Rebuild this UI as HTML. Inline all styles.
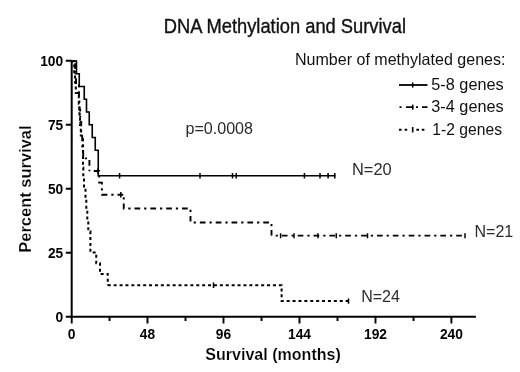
<!DOCTYPE html>
<html><head><meta charset="utf-8"><style>
html,body{margin:0;padding:0;background:#fff;}
svg{display:block;font-family:"Liberation Sans",sans-serif;}
</style></head><body>
<svg width="520" height="372" viewBox="0 0 520 372">
<rect width="520" height="372" fill="#fff"/>
<g fill="#111">
<text x="163.700" y="33" font-size="19.300" textLength="242.300" lengthAdjust="spacingAndGlyphs" stroke="#111" stroke-width="0.350">DNA Methylation and Survival</text>
<text x="294.900" y="65.100" font-size="16.500" textLength="210.600" lengthAdjust="spacingAndGlyphs">Number of methylated genes:</text>
<text x="431.300" y="90.300" font-size="17" textLength="72.400" lengthAdjust="spacingAndGlyphs">5-8 genes</text>
<text x="431.300" y="112.200" font-size="17" textLength="72.400" lengthAdjust="spacingAndGlyphs">3-4 genes</text>
<text x="432.300" y="134.600" font-size="17" textLength="69.800" lengthAdjust="spacingAndGlyphs">1-2 genes</text>
<text x="185.500" y="134.200" font-size="16" textLength="67.500" lengthAdjust="spacingAndGlyphs" fill="#2b2b2b">p=0.0008</text>
<text x="352" y="174.700" font-size="16" textLength="39.700" lengthAdjust="spacingAndGlyphs" fill="#2b2b2b">N=20</text>
<text x="474.500" y="236.500" font-size="16" fill="#2b2b2b">N=21</text>
<text x="361.200" y="301.500" font-size="16" fill="#2b2b2b">N=24</text>
</g>
<!-- legend samples -->
<g stroke="#000" fill="none">
<path d="M399 85 H427.500" stroke-width="1.800"/>
<path d="M412.700 82.400 V87.600" stroke-width="1.500"/>
<path d="M399.500 107.200 H427.500" stroke-width="1.800" stroke-dasharray="2 4.500 7.500 2.500 2 4 6 4"/>
<path d="M412.700 104.600 V109.800" stroke-width="1.500"/>
<path d="M399 129.800 h2.600 M404.600 129.800 h2.600 M416.400 129.800 h2.600 M421.800 129.800 h2.600" stroke-width="1.900"/>
<path d="M412.700 127 V132.400" stroke-width="1.600"/>
</g>
<!-- axes -->
<g stroke="#000" stroke-width="2" fill="none">
<path d="M71.700 59.900 V317.800"/>
<path d="M65.800 316.800 H475.900"/>
<path d="M65.800 60.800 H71.500 M65.800 124.800 H71.500 M65.800 188.800 H71.500 M65.800 252.800 H71.500" stroke-width="1.900"/>
<path d="M71.700 316.500 V323.500 M147.500 316.500 V323.500 M223.500 316.500 V323.500 M299.500 316.500 V323.500 M375.500 316.500 V323.500 M451.400 316.500 V323.500" stroke-width="1.900"/>
<path d="M109.500 316.500 V321 M185.500 316.500 V321 M261.500 316.500 V321 M337.500 316.500 V321 M413.500 316.500 V321" stroke-width="1.900"/>
</g>
<!-- curves -->
<g stroke="#000" fill="none" stroke-width="1.700" stroke-linejoin="miter">
<path id="solid" d="M71.500 61.100 H76.500 V73.750 H79.250 V86.500 H84.250 V99.250 H86.500 V112 H89.250 V124.750 H92.250 V137.500 H95.250 V150.250 H98.250 V175.800 H335.500" stroke-width="1.600"/>
<g stroke-dasharray="5.700 3.950 2.250 3.950" stroke-width="1.900">
<path d="M71.500 61.250 H75.200 V73.400 H76 V85.500 H79 V97.700 H79.400 V109.800 H80.200 V122 H81.200 V134.100 H82.200 V146.250 H83.200 V158.400 H89.400 V171" stroke-dashoffset="10.150"/>
<path d="M89.400 171 H99.200 V182.600 H101.900 V194.800 H123.750" stroke-dashoffset="11.500"/>
<path d="M123.750 194.800 V208.500 H190.500 V222.500" stroke-dashoffset="7.250"/>
<path d="M190.500 222.500 H271.500 V235.600" stroke-dashoffset="6.500"/>
<path d="M271.500 235.600 H465" stroke-dashoffset="5.500"/>
</g>
<g stroke-dasharray="3 2.900" stroke-width="2">
<path d="M71.500 61.250 H74.200 V71.900 H75 V82.500 H75.800 V93.100 H78.800 V103.750 H79.400 V114.400 H80 V125 H80.800 V135.600 H83 V146.250 V156.900 V167.500 H83.300 V178.100 H84 V188.750 H85.500 V199.400 H86.300 V210 H87.300 V220.600 H88.300 V231.250 H90.400 V241.900 V252.500 H96.250 V263.250 H100 V274 H107.750 V285.300"/>
<path d="M107.750 285.300 H281.600 V301.100 H348.500"/>
</g>
</g>
<g stroke="#000" stroke-width="1.500" fill="none">
<path d="M119.600 172.900 V178.500 M200 172.900 V178.500 M232.500 172.900 V178.500 M236.200 172.900 V178.500 M304.400 172.900 V178.500 M320 172.900 V178.500 M328.100 172.900 V178.500 M334.750 172.900 V178.500"/>
<path d="M98 168.250 V173.750 M120.800 192 V197.500 M280.600 233.200 V238.200 M294 233.200 V238.200 M318 233.200 V238.200 M336.250 233.200 V238.200 M367.500 233.200 V238.200 M465 233.200 V238.200"/>
<path d="M213.500 282.500 V288 M348.500 298.400 V303.800"/>
</g>
<g font-size="15.500" font-weight="bold" fill="#000" text-anchor="end">
<text x="63.200" y="65.60" textLength="23.0" lengthAdjust="spacingAndGlyphs">100</text>
<text x="63.200" y="129.60" textLength="15.3" lengthAdjust="spacingAndGlyphs">75</text>
<text x="63.200" y="193.60" textLength="15.3" lengthAdjust="spacingAndGlyphs">50</text>
<text x="63.200" y="257.60" textLength="15.3" lengthAdjust="spacingAndGlyphs">25</text>
<text x="63.200" y="321.60" textLength="7.7" lengthAdjust="spacingAndGlyphs">0</text>
</g>
<g font-size="15.500" font-weight="bold" fill="#000" text-anchor="middle">
<text x="71.6" y="338.600" textLength="7.7" lengthAdjust="spacingAndGlyphs">0</text>
<text x="147.5" y="338.600" textLength="15.3" lengthAdjust="spacingAndGlyphs">48</text>
<text x="223.5" y="338.600" textLength="15.3" lengthAdjust="spacingAndGlyphs">96</text>
<text x="299.5" y="338.600" textLength="23.0" lengthAdjust="spacingAndGlyphs">144</text>
<text x="375.5" y="338.600" textLength="23.0" lengthAdjust="spacingAndGlyphs">192</text>
<text x="451.4" y="338.600" textLength="23.0" lengthAdjust="spacingAndGlyphs">240</text>
</g>
<text x="205.300" y="360" font-size="16" font-weight="bold" textLength="135.500" lengthAdjust="spacingAndGlyphs" fill="#000" stroke="#fff" stroke-width="0.180">Survival (months)</text>
<text transform="translate(31.300,252.700) rotate(-90)" font-size="16.400" font-weight="bold" textLength="127.300" lengthAdjust="spacingAndGlyphs" fill="#000" stroke="#fff" stroke-width="0.180">Percent survival</text>
</svg>
</body></html>
